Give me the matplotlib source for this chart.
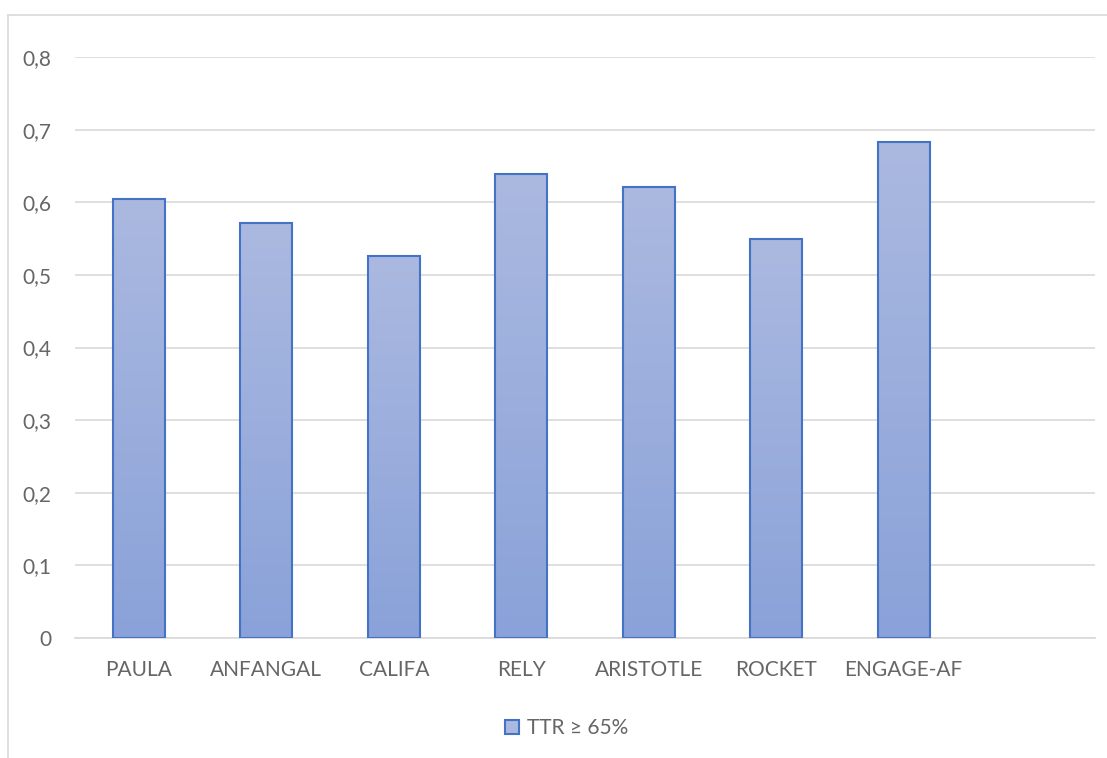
import matplotlib

matplotlib.use("Agg")
import matplotlib.pyplot as plt
import numpy as np
from matplotlib.colors import LinearSegmentedColormap
from matplotlib.lines import Line2D
from matplotlib.patches import Rectangle

plt.rcParams["font.family"] = ["Lato", "DejaVu Sans"]

TRIALS = ["PAULA", "ANFANGAL", "CALIFA", "RELY", "ARISTOTLE", "ROCKET", "ENGAGE-AF", ""]
TTR_VALUES = [0.605, 0.572, 0.526, 0.639, 0.621, 0.549, 0.683, np.nan]
Y_TICKS = [0, 0.1, 0.2, 0.3, 0.4, 0.5, 0.6, 0.7, 0.8]
Y_LABELS = ["0", "0,1", "0,2", "0,3", "0,4", "0,5", "0,6", "0,7", "0,8"]
SERIES = "TTR \u2265 65%"

TEXT = "#666666"
GRID = "#d9d9d9"
EDGE = "#4472c4"
TOP = "#abb9e0"
BOTTOM = "#8aa2d9"
FS = 15

W, H = 1107, 758
fig = plt.figure(figsize=(W / 100, H / 100), dpi=100)
ax = fig.add_axes([75 / W, 1 - 638 / H, (1095 - 75) / W, (638 - 57) / H])

x = np.arange(len(TRIALS))
bars = ax.bar(x, TTR_VALUES, width=0.41, facecolor="none", edgecolor=EDGE,
              linewidth=1.5, zorder=3)

# vertical gradient fill, light at the top, clipped to each bar
cmap = LinearSegmentedColormap.from_list("grad", [BOTTOM, TOP])
grad = np.linspace(0, 1, 256).reshape(-1, 1)
for b in bars:
    h = b.get_height()
    if np.isnan(h):
        continue
    x0 = b.get_x()
    im = ax.imshow(grad, cmap=cmap, origin="lower", aspect="auto",
                   extent=(x0, x0 + b.get_width(), 0, h), zorder=2)
    im.set_clip_path(b)

ax.set_xlim(-0.5, len(TRIALS) - 0.5)
ax.set_ylim(0, 0.8)
ax.set_yticks(Y_TICKS)
ax.set_yticklabels(Y_LABELS)
ax.set_xticks(x)
ax.set_xticklabels(TRIALS)
ax.tick_params(axis="both", length=0, labelsize=FS, colors=TEXT)
ax.tick_params(axis="y", pad=17)
ax.tick_params(axis="x", pad=16)
ax.grid(axis="y", color=GRID, linewidth=1.2, zorder=0)
ax.set_axisbelow(True)
for s in ["top", "right", "left"]:
    ax.spines[s].set_visible(False)
ax.spines["bottom"].set_color(GRID)
ax.spines["bottom"].set_linewidth(1.2)

# chart frame (runs off the right and bottom of the image)
fig.add_artist(Line2D([8 / W, 8 / W], [0, 1 - 15 / H], color=GRID, lw=1.2,
                      transform=fig.transFigure))
fig.add_artist(Line2D([8 / W, 1], [1 - 15 / H, 1 - 15 / H], color=GRID, lw=1.2,
                      transform=fig.transFigure))

handle = Rectangle((0, 0), 1, 1, facecolor=TOP, edgecolor=EDGE, linewidth=1.5)
fig.legend([handle], [SERIES], loc="center", bbox_to_anchor=(567 / W, 1 - 728 / H),
           frameon=False, fontsize=FS, labelcolor=TEXT, handlelength=0.65,
           handleheight=0.65, handletextpad=0.4)

fig.savefig("out.png", dpi=100)
